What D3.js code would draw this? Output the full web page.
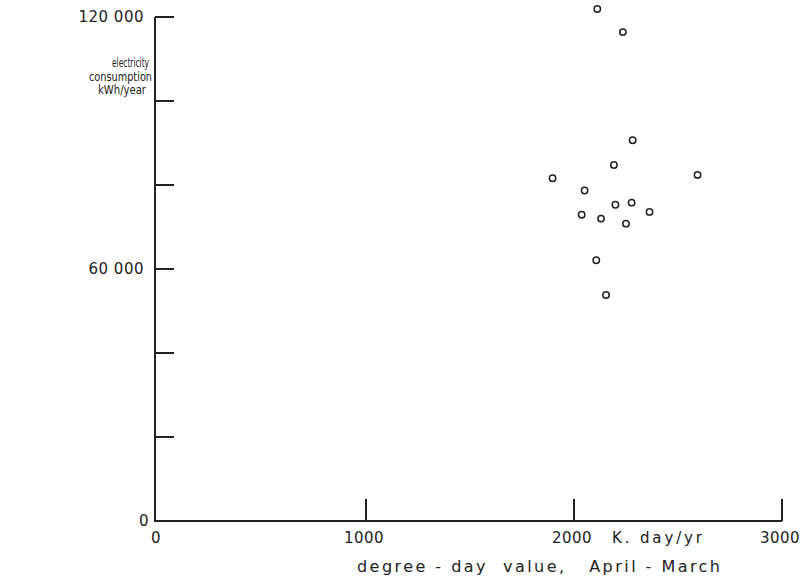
<!DOCTYPE html>
<html>
<head>
<meta charset="utf-8">
<script src="https://cdn.jsdelivr.net/npm/d3@7"></script>
<style>
  body { margin: 0; background: #fff; }
  text { font-family: "DejaVu Sans", sans-serif; fill: #222; }
</style>
</head>
<body>
<div id="chart"></div>
<script>

// degree-day value (K.day/yr) and electricity consumption (kWh/year)
var degreeDays = [2112, 2235, 2282, 2192, 1897, 2594, 2051, 2199, 2277, 2363, 2037, 2130, 2250, 2107, 2154];
var consumption = [121900, 116400, 90650, 84760, 81600, 82400, 78700, 75300, 75800, 73600, 72900, 72000, 70800, 62100, 53800];

var xTicks = [0, 1000, 2000, 3000];
var xTickLabels = ["0", "1000", "2000", "3000"];
var yTicks = [0, 20000, 40000, 60000, 80000, 100000, 120000];
var yTickLabels = {0: "0", 60000: "60 000", 120000: "120 000"};

var width = 808, height = 577;

var svg = d3.select("#chart")
  .append("svg")
  .attr("width", width)
  .attr("height", height);

var x = d3.scaleLinear().domain([0, 3000]).range([158, 782]);
var y = d3.scaleLinear().domain([0, 120000]).range([521, 17]);

var ink = "#222";

// y axis line + ticks pointing right
svg.append("line")
  .attr("x1", 155).attr("x2", 155)
  .attr("y1", y(120000)).attr("y2", y(0) + 1)
  .attr("stroke", ink).attr("stroke-width", 2);

svg.selectAll(".ytick")
  .data(yTicks.slice(1))
  .enter().append("line")
  .attr("class", "ytick")
  .attr("x1", 155).attr("x2", 174)
  .attr("y1", function(d){ return y(d); })
  .attr("y2", function(d){ return y(d); })
  .attr("stroke", ink).attr("stroke-width", 2);

svg.selectAll(".ylab")
  .data(yTicks.filter(function(d){ return yTickLabels[d]; }))
  .enter().append("text")
  .attr("class", "ylab")
  .attr("x", function(d){ return d === 0 ? 149 : 144; })
  .attr("y", function(d){ return y(d) + 5; })
  .attr("text-anchor", "end")
  .style("font-size", "15px")
  .style("letter-spacing", "0.5px")
  .text(function(d){ return yTickLabels[d]; });

// x axis line + ticks pointing up
svg.append("line")
  .attr("x1", 155).attr("x2", x(3000))
  .attr("y1", y(0)).attr("y2", y(0))
  .attr("stroke", ink).attr("stroke-width", 2);

svg.selectAll(".xtick")
  .data(xTicks.slice(1))
  .enter().append("line")
  .attr("class", "xtick")
  .attr("x1", function(d){ return x(d); })
  .attr("x2", function(d){ return x(d); })
  .attr("y1", y(0)).attr("y2", y(0) - 22)
  .attr("stroke", ink).attr("stroke-width", 2);

svg.selectAll(".xlab")
  .data(xTicks)
  .enter().append("text")
  .attr("class", "xlab")
  .attr("x", function(d){ return x(d) - 2; })
  .attr("y", 543)
  .attr("text-anchor", "middle")
  .style("font-size", "15px")
  .style("letter-spacing", "0.5px")
  .text(function(d, i){ return xTickLabels[i]; });

svg.append("text")
  .attr("x", 612).attr("y", 543)
  .style("font-size", "15px")
  .attr("textLength", 90)
  .attr("lengthAdjust", "spacing")
  .text("K. day/yr");

svg.append("text")
  .attr("x", 357).attr("y", 572)
  .style("font-size", "16px")
  .attr("xml:space", "preserve")
  .attr("textLength", 363)
  .attr("lengthAdjust", "spacing")
  .text("degree - day  value,   April - March");

// y axis title, three lines
var yTitle = ["electricity", "consumption", "kWh/year"];
var yTitleX = [112, 89, 98];
var yTitleW = [37, 63, 48];
svg.selectAll(".ytitle")
  .data(yTitle)
  .enter().append("text")
  .attr("class", "ytitle")
  .attr("x", function(d, i){ return yTitleX[i]; })
  .attr("y", function(d, i){ return 67 + i * 13.5; })
  .style("font-size", "13px")
  .attr("textLength", function(d, i){ return yTitleW[i]; })
  .attr("lengthAdjust", "spacingAndGlyphs")
  .text(function(d){ return d; });

// points
svg.selectAll(".pt")
  .data(degreeDays)
  .enter().append("circle")
  .attr("class", "pt")
  .attr("cx", function(d){ return x(d); })
  .attr("cy", function(d, i){ return y(consumption[i]); })
  .attr("r", 3.2)
  .attr("fill", "#fff")
  .attr("stroke", ink)
  .attr("stroke-width", 1.5);

</script>
</body>
</html>
